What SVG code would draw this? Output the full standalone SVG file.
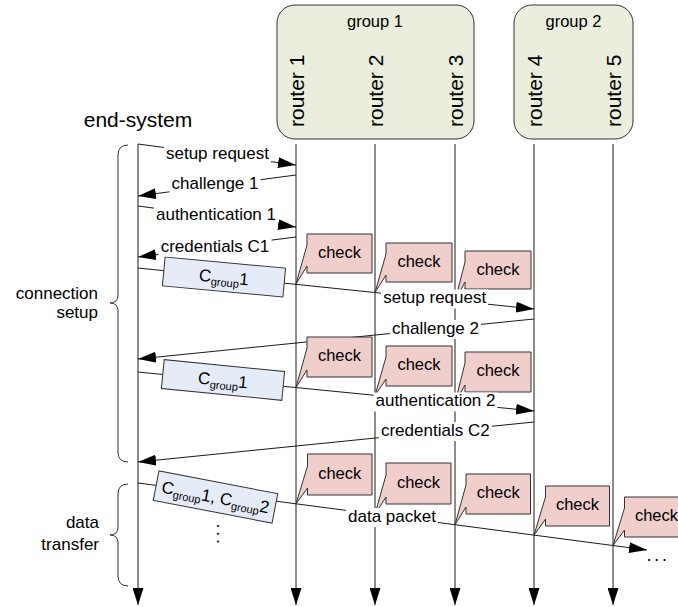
<svg xmlns="http://www.w3.org/2000/svg" width="678" height="607" viewBox="0 0 678 607">
<defs>
<marker id="ah" markerUnits="userSpaceOnUse" markerWidth="18" markerHeight="11" refX="18" refY="5.5" orient="auto">
<path d="M0,0 L18,5.5 L0,11 Z" fill="#000"/>
</marker>
<marker id="ahv" markerUnits="userSpaceOnUse" markerWidth="17" markerHeight="11" refX="17" refY="5.5" orient="auto">
<path d="M0,0 L17,5.5 L0,11 Z" fill="#000"/>
</marker>
<style>
text{font-family:"Liberation Sans",Arial,sans-serif;fill:#000}
.grp{fill:#ebeedd;stroke:#333;stroke-width:1}
.chk{fill:#efcecc;stroke:#333;stroke-width:1}
.cbox{fill:#e6ecf7;stroke:#333;stroke-width:1}
.life{stroke:#1a1a1a;stroke-width:1;fill:none}
.msg{stroke:#1a1a1a;stroke-width:1;fill:none;marker-end:url(#ah)}
.brace{stroke:#333;stroke-width:1;fill:none}
.lbl{font-size:17px;text-anchor:middle}
.bg{fill:#fff}
.ct{font-size:16.5px;text-anchor:middle}
.rt{font-size:21px}
</style>
</defs>

<g id="group1">
<rect class="grp" x="277" y="5" width="197" height="134" rx="18"/>
<text x="375" y="27" font-size="16.5" text-anchor="middle">group 1</text>
</g>
<g id="group2">
<rect class="grp" x="514" y="5" width="119" height="134" rx="18"/>
<text x="573.5" y="27" font-size="16.5" text-anchor="middle">group 2</text>
</g>

<g id="end-system"><text x="138" y="127" font-size="21" text-anchor="middle">end-system</text></g>
<g id="router1"><text class="rt" transform="translate(304,127) rotate(-90)">router 1</text></g>
<g id="router2"><text class="rt" transform="translate(383,127) rotate(-90)">router 2</text></g>
<g id="router3"><text class="rt" transform="translate(463,127) rotate(-90)">router 3</text></g>
<g id="router4"><text class="rt" transform="translate(542,127) rotate(-90)">router 4</text></g>
<g id="router5"><text class="rt" transform="translate(621,127) rotate(-90)">router 5</text></g>

<g id="phase-setup">
<path class="brace" d="M128,145 Q118,145 118,155 L118,295 Q118,303 110,303 Q118,303 118,311 L118,452 Q118,462 128,462"/>
<text x="98" y="299" font-size="17" text-anchor="end">connection</text>
<text x="98" y="318" font-size="17" text-anchor="end">setup</text>
</g>
<g id="phase-data">
<path class="brace" d="M128,484 Q118,484 118,494 L118,527 Q118,535 110,535 Q118,535 118,543 L118,576 Q118,586 128,586"/>
<text x="99" y="528" font-size="17" text-anchor="end">data</text>
<text x="99" y="550" font-size="17" text-anchor="end">transfer</text>
</g>

<g id="connectors">
<line class="life" x1="138" y1="144" x2="138" y2="605" marker-end="url(#ahv)"/>
<line class="life" x1="296" y1="144" x2="296" y2="605" marker-end="url(#ahv)"/>
<line class="life" x1="375" y1="144" x2="375" y2="605" marker-end="url(#ahv)"/>
<line class="life" x1="455" y1="144" x2="455" y2="605" marker-end="url(#ahv)"/>
<line class="life" x1="534" y1="144" x2="534" y2="605" marker-end="url(#ahv)"/>
<line class="life" x1="613" y1="144" x2="613" y2="605" marker-end="url(#ahv)"/>
<line class="msg" x1="138" y1="144" x2="296" y2="165"/>
<line class="msg" x1="296" y1="175" x2="138" y2="196"/>
<line class="msg" x1="138" y1="206" x2="296" y2="227"/>
<line class="msg" x1="296" y1="237" x2="138" y2="257"/>
<line class="msg" x1="138" y1="268" x2="534" y2="309"/>
<line class="msg" x1="534" y1="319" x2="138" y2="359"/>
<line class="msg" x1="138" y1="372" x2="534" y2="411"/>
<line class="msg" x1="534" y1="422" x2="138" y2="462"/>
<line class="msg" x1="138" y1="483" x2="647" y2="550"/>
</g>

<g id="cred1">
<g transform="translate(224,277) rotate(5.3)">
<rect class="cbox" x="-60.5" y="-14.5" width="121" height="29"/>
<text x="0" y="6" font-size="17" text-anchor="middle">C<tspan font-size="11" dy="3.5">group</tspan><tspan dy="-3.5">1</tspan></text>
</g>
</g>
<g id="cred2">
<g transform="translate(223,380) rotate(5.6)">
<rect class="cbox" x="-60.5" y="-14.5" width="121" height="29"/>
<text x="0" y="6" font-size="17" text-anchor="middle">C<tspan font-size="11" dy="3.5">group</tspan><tspan dy="-3.5">1</tspan></text>
</g>
</g>
<g id="cred3">
<g transform="translate(215.5,497) rotate(10.9)">
<rect class="cbox" x="-60.5" y="-15" width="121" height="30"/>
<text x="0" y="6" font-size="17" text-anchor="middle">C<tspan font-size="11" dy="3.5">group</tspan><tspan dy="-3.5">1, C</tspan><tspan font-size="11" dy="3.5">group</tspan><tspan dy="-3.5">2</tspan></text>
</g>
</g>

<g id="check-s1"><path class="chk" d="M307,234 H372 V273 H307 V266 L296,284 L307,245 Z"/><text class="ct" x="339.5" y="257.5">check</text></g>
<g id="check-s2"><path class="chk" d="M386,243 H452 V282 H386 V275 L375,292.5 L386,254 Z"/><text class="ct" x="419" y="266.5">check</text></g>
<g id="check-s3"><path class="chk" d="M465,251 H531 V289 H465 V282 L455,301 L465,262 Z"/><text class="ct" x="498" y="274.5">check</text></g>

<g id="check-a1"><path class="chk" d="M307,337 H372 V377 H307 V370 L296,387.5 L307,348 Z"/><text class="ct" x="339.5" y="361">check</text></g>
<g id="check-a2"><path class="chk" d="M386,346 H452 V386 H386 V379 L375,395.5 L386,357 Z"/><text class="ct" x="419" y="370">check</text></g>
<g id="check-a3"><path class="chk" d="M465,352 H531 V392 H465 V385 L455,403 L465,363 Z"/><text class="ct" x="498" y="376">check</text></g>

<g id="check-d1"><path class="chk" d="M307.5,454 H372 V495 H307.5 V488 L296,503.8 L307.5,466 Z"/><text class="ct" x="339.7" y="478.5">check</text></g>
<g id="check-d2"><path class="chk" d="M386,463 H451 V504 H386 V497 L375,514.2 L386,475 Z"/><text class="ct" x="418.5" y="487.5">check</text></g>
<g id="check-d3"><path class="chk" d="M466,474 H530.5 V514 H466 V507 L455,524.7 L466,485 Z"/><text class="ct" x="498.2" y="498">check</text></g>
<g id="check-d4"><path class="chk" d="M545.5,486 H609.5 V526 H545.5 V519 L534,535.2 L545.5,497 Z"/><text class="ct" x="577.5" y="510">check</text></g>
<g id="check-d5"><path class="chk" d="M624.5,497 H688 V537 H624.5 V530 L613,545.6 L624.5,508 Z"/><text class="ct" x="656.5" y="521">check</text></g>

<g id="labels">
<rect class="bg" x="164" y="145" width="107" height="19"/><text class="lbl" x="217.5" y="159">setup request</text>
<rect class="bg" x="169.5" y="175" width="91" height="19"/><text class="lbl" x="215" y="189">challenge 1</text>
<rect class="bg" x="154" y="206" width="124" height="19"/><text class="lbl" x="216" y="220">authentication 1</text>
<rect class="bg" x="158.5" y="237.5" width="113" height="19"/><text class="lbl" x="215" y="251.5">credentials C1</text>
<rect class="bg" x="381" y="289.5" width="107" height="19"/><text class="lbl" x="434.7" y="303.3">setup request</text>
<rect class="bg" x="390" y="320" width="91" height="19"/><text class="lbl" x="435.5" y="334">challenge 2</text>
<rect class="bg" x="373.5" y="392.5" width="124" height="19"/><text class="lbl" x="435.5" y="406">authentication 2</text>
<rect class="bg" x="378.8" y="422" width="113" height="19"/><text class="lbl" x="435.3" y="436">credentials C2</text>
<rect class="bg" x="346" y="508" width="92" height="19"/><text class="lbl" x="392" y="522">data packet</text>
<text x="646.4" y="561" font-size="18" letter-spacing="2.8">...</text>
<text font-size="18" letter-spacing="2.8" transform="translate(216.8,523.5) rotate(90)">...</text>
</g>
</svg>
